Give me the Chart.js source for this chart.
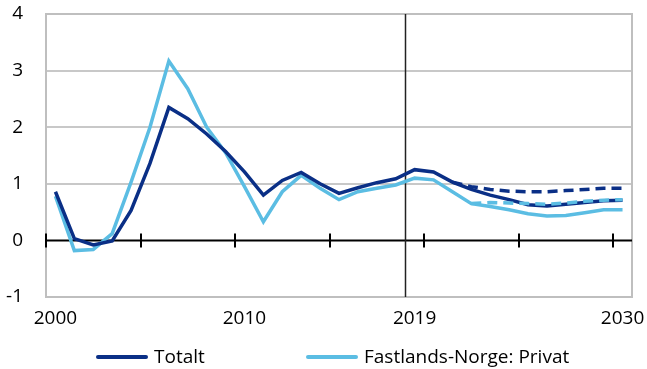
<!DOCTYPE html>
<html>
<head>
<meta charset="utf-8">
<script src="https://cdn.jsdelivr.net/npm/chart.js@4.4.1/dist/chart.umd.min.js"></script>
<style>
  html, body { margin: 0; padding: 0; background: #fff; }
  #wrap { position: relative; width: 647px; height: 369px; overflow: hidden; }
  #legend { position: absolute; left: 0; top: 344px; width: 647px; height: 25px;
            font-family: "Open Sans", sans-serif; font-size: 19px; color: #000; }
  .item { position: absolute; top: 0; white-space: nowrap; line-height: 25px; }
  .swatch { display: inline-block; width: 52px; height: 4px; border-radius: 2px;
            vertical-align: middle; margin-right: 6px; position: relative; top: -1px; }
</style>
</head>
<body>
<div id="wrap">
  <canvas id="c" width="647" height="369"></canvas>
  <div id="legend"></div>
</div>
<script>
  const years = ['2000', '2001', '2002', '2003', '2004', '2005', '2006', '2007', '2008', '2009',
    '2010', '2011', '2012', '2013', '2014', '2015', '2016', '2017', '2018', '2019',
    '2020', '2021', '2022', '2023', '2024', '2025', '2026', '2027', '2028', '2029', '2030'];
  const shownYears = ['2000', '2010', '2019', '2030'];
  const markerYear = '2019';

  const totalt = [0.86, 0.03, -0.08, -0.01, 0.53, 1.36, 2.35, 2.15, 1.88, 1.57,
    1.21, 0.80, 1.06, 1.20, 1.00, 0.83, 0.93, 1.02, 1.09, 1.25,
    1.21, 1.03, 0.90, 0.80, 0.72, 0.63, 0.61, 0.64, 0.67, 0.70, 0.71];
  const privat = [0.78, -0.18, -0.16, 0.12, 1.03, 2.00, 3.17, 2.68, 2.00, 1.55,
    0.95, 0.33, 0.86, 1.15, 0.92, 0.72, 0.86, 0.92, 0.98, 1.10,
    1.07, 0.86, 0.65, 0.60, 0.54, 0.47, 0.43, 0.44, 0.49, 0.54, 0.54];
  // alternative paths (dashed), only from 2021/2022
  const totaltAlt = [null, null, null, null, null, null, null, null, null, null,
    null, null, null, null, null, null, null, null, null, null,
    null, 1.03, 0.95, 0.90, 0.87, 0.86, 0.86, 0.88, 0.90, 0.92, 0.92];
  const privatAlt = [null, null, null, null, null, null, null, null, null, null,
    null, null, null, null, null, null, null, null, null, null,
    null, null, 0.65, 0.67, 0.66, 0.65, 0.64, 0.66, 0.69, 0.71, 0.72];

  const yTicks = [-1, 0, 1, 2, 3, 4];
  const legendNames = ['Totalt', 'Fastlands-Norge: Privat'];

  const DARK = '#0a2f86';
  const LIGHT = '#5bbde3';
  const FONT = '"Open Sans", sans-serif';

  // zero line with tick marks, vertical 2019 line and frame
  const decor = {
    id: 'decor',
    beforeDatasetsDraw(chart) {
      const { ctx, chartArea: a, scales: { x, y } } = chart;
      const step = x.getPixelForValue(1) - x.getPixelForValue(0);
      const y0 = y.getPixelForValue(0);
      ctx.save();
      ctx.strokeStyle = '#bfbfbf';
      ctx.lineWidth = 2;
      ctx.strokeRect(a.left, a.top, a.right - a.left, a.bottom - a.top);

      ctx.strokeStyle = '#000';
      ctx.lineWidth = 2;
      ctx.beginPath();
      ctx.moveTo(a.left, y0);
      ctx.lineTo(a.right, y0);
      for (let i = 0; i <= years.length - 1; i += 5) {
        const px = Math.round(x.getPixelForValue(i) - step / 2);
        ctx.moveTo(px, y0 - 7);
        ctx.lineTo(px, y0 + 7);
      }
      ctx.stroke();

      const mx = Math.round(x.getPixelForValue(years.indexOf(markerYear)) - step / 2) + 0.5;
      ctx.strokeStyle = '#222';
      ctx.lineWidth = 1.5;
      ctx.beginPath();
      ctx.moveTo(mx, a.top);
      ctx.lineTo(mx, a.bottom);
      ctx.stroke();
      ctx.restore();
    }
  };

  function line(label, data, color, dash, order) {
    return {
      label, data,
      borderColor: color,
      backgroundColor: color,
      borderWidth: 3.5,
      borderDash: dash,
      pointRadius: 0,
      tension: 0,
      spanGaps: false,
      order
    };
  }

  new Chart(document.getElementById('c'), {
    type: 'line',
    data: {
      labels: years,
      datasets: [
        line(legendNames[0], totalt, DARK, [], 3),
        line(legendNames[1], privat, LIGHT, [], 4),
        line('Totalt alt.', totaltAlt, DARK, [10, 6], 2),
        line('Privat alt.', privatAlt, LIGHT, [10, 6], 1)
      ]
    },
    options: {
      responsive: false,
      animation: false,
      layout: { padding: { left: 0, right: 15, top: 14, bottom: 0 } },
      scales: {
        x: {
          type: 'category',
          offset: true,
          grid: { display: false, drawTicks: false },
          border: { display: false },
          ticks: {
            autoSkip: false,
            maxRotation: 0,
            padding: 10,
            color: '#000',
            font: { family: FONT, size: 19 },
            callback: (v, i) => shownYears.includes(years[i]) ? years[i] : ''
          },
          afterFit: (s) => { s.height = 72; s.paddingLeft = 0; s.paddingRight = 0; }
        },
        y: {
          min: -1, max: 4,
          afterBuildTicks: (s) => { s.ticks = yTicks.map((v) => ({ value: v })); },
          grid: {
            drawTicks: false,
            lineWidth: 2,
            color: (c) => (c.tick && c.tick.value === 0) ? 'rgba(0,0,0,0)' : '#c8c8c8'
          },
          border: { display: false },
          ticks: {
            padding: 23,
            color: '#000',
            font: { family: FONT, size: 19 }
          },
          afterFit: (s) => { s.width = 46; s.paddingTop = 0; s.paddingBottom = 0; }
        }
      },
      plugins: {
        legend: { display: false },
        tooltip: { enabled: false }
      }
    },
    plugins: [decor]
  });

  // legend below the plot
  const legendPos = [96, 306];
  const legendCols = [DARK, LIGHT];
  document.getElementById('legend').innerHTML = legendNames.map((n, i) =>
    `<div class="item" style="left:${legendPos[i]}px"><span class="swatch" style="background:${legendCols[i]}"></span>${n}</div>`
  ).join('');
</script>
</body>
</html>
